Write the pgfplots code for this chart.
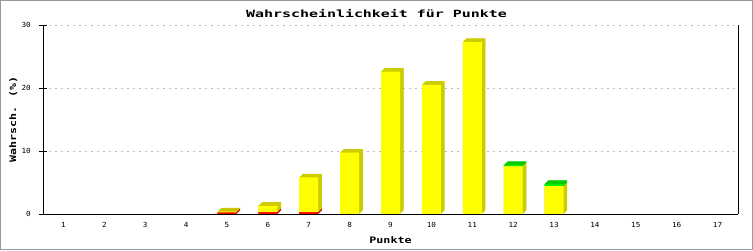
\documentclass[border=0pt]{standalone}
\usepackage{pgfplots}
\pgfplotsset{compat=1.18}
\usepackage{pgfplotstable}
\usepackage{fontspec}
\newfontfamily\titlef[FakeStretch=1.5]{DejaVu Sans Mono}
\newfontfamily\labelf[FakeStretch=1.3]{DejaVu Sans Mono}
\newfontfamily\tickf[FakeStretch=1.1]{DejaVu Sans Mono}
\definecolor{yel}{HTML}{FFFF00}
\definecolor{yelD}{HTML}{CCCC00}
\definecolor{redF}{HTML}{FF0000}
\definecolor{redD}{HTML}{CC0000}
\definecolor{grnF}{HTML}{00EE00}
\definecolor{grnD}{HTML}{00CC00}
\definecolor{gridc}{HTML}{BBBBBB}
\definecolor{framec}{HTML}{999999}
\pgfplotstableread{
x red yellow green
5 0.27 0.1 0
6 0.3 1.0 0
7 0.3 5.5 0
8 0 9.73 0
9 0 22.6 0
10 0 20.5 0
11 0 27.3 0
12 0 7.6 0.15
13 0 4.45 0.3
}\data
\pgfplotsset{common/.style={scale only axis, width=695bp, height=189bp,
  xmin=0.5, xmax=17.5, ymin=0, ymax=30, enlargelimits=false},
  nobar/.style={draw=none, fill=none}}
% #1 shift, #2 red style, #3 yellow style, #4 green style
\newcommand{\bars}[4]{%
\begin{axis}[common, at={({43bp+#1 bp},{36bp+#1 bp})}, anchor=south west, hide axis,
  ybar stacked, bar width=19bp]
\addplot[#2] table[x=x,y=red]{\data};
\addplot[#3] table[x=x,y=yellow]{\data};
\addplot[#4] table[x=x,y=green]{\data};
\end{axis}}
\def\depths{3.7,3.35,3.0,2.65,2.3,1.95,1.6,1.25,0.9,0.55,0.2}
\begin{document}
\begin{tikzpicture}[x=1bp,y=1bp]
\useasboundingbox (0,0) rectangle (753,250);
\fill[white] (0,0) rectangle (753,250);
\draw[framec, line width=1.5bp] (0.75,0.75) rectangle (752.25,249.25);
% grid
\begin{axis}[common, at={(43bp,36bp)}, anchor=south west,
  axis line style={draw=none}, xtick=\empty, ytick={10,20,30}, yticklabels={},
  major tick length=0pt, ymajorgrids,
  major grid style={gridc, line width=1bp, dash pattern=on 2bp off 4bp}]
\addplot[draw=none] coordinates {(1,0)};
\end{axis}
% red segments: depth copies then front
\foreach \s in \depths {\bars{\s}{fill=redD,draw=none}{nobar}{nobar}}
\bars{0}{fill=redF,draw=none}{nobar}{nobar}
% yellow segments
\foreach \s in \depths {\bars{\s}{nobar}{fill=yelD,draw=none}{nobar}}
\bars{0}{nobar}{fill=yel,draw=none}{nobar}
% green segments
\foreach \s in \depths {\bars{\s}{nobar}{nobar}{fill=grnD,draw=none}}
\bars{0}{nobar}{nobar}{fill=grnF,draw=none}
% axes on top
\begin{axis}[common, at={(43bp,36bp)}, anchor=south west,
  axis x line=bottom, axis y line=box,
  x axis line style={-, line width=1bp}, y axis line style={-, line width=1bp},
  xtick={1,...,17}, ytick={0,10,20,30}, ytick pos=left,
  tick align=center, major tick length=9bp,
  xtick style={draw=none}, ytick style={line width=1bp, black},
  ticklabel style={font=\tickf\fontsize{7}{8}\selectfont},
  /pgf/number format/assume math mode=true,
  yticklabel style={anchor=east, inner sep=0pt, xshift=-7.5bp},
  xticklabel style={anchor=north, inner sep=0pt, yshift=-4bp}]
\addplot[draw=none] coordinates {(1,0)};
\end{axis}
\node[anchor=base, inner sep=0pt, font=\titlef\bfseries\fontsize{10}{12}\selectfont] at (376.5,232.3) {Wahrscheinlichkeit für Punkte};
\node[anchor=base, inner sep=0pt, font=\labelf\bfseries\fontsize{9}{11}\selectfont] at (390.5,6.7) {Punkte};
\node[anchor=base, rotate=90, inner sep=0pt, font=\labelf\bfseries\fontsize{9}{11}\selectfont] at (16,130.5) {Wahrsch. (\%)};
\end{tikzpicture}
\end{document}
